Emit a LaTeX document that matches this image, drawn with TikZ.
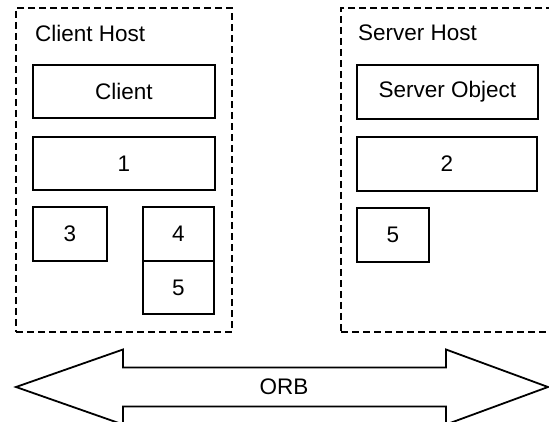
\documentclass[tikz,border=0pt]{standalone}
\usepackage{fontspec}
\setmainfont{Liberation Sans}
\begin{document}
\begin{tikzpicture}[x=1pt,y=-1pt,
  txt/.style={font=\fontsize{22.5}{27}\selectfont},
  box/.style={draw, line width=1.8pt, inner sep=0pt, txt},
  host/.style={draw, line width=1.6pt, dash pattern=on 7pt off 4pt, inner sep=0pt},
  lbl/.style={txt, inner sep=0pt, anchor=west}]
\useasboundingbox (0,0) rectangle (549,422);
\clip (0,0) rectangle (549,422);
% hosts
\node[host, minimum width=216pt, minimum height=324pt] (ch) at (124,170) {};
\node[host, minimum width=219pt, minimum height=324pt] (sh) at (450.5,170) {};
\node[lbl] (chl) at (35,33) {Client Host};
\node[lbl] (shl) at (358,33) {Server Host};
% client side
\node[box, minimum width=182pt, minimum height=53pt] (client) at (124,91.5) {Client};
\node[box, minimum width=182pt, minimum height=53pt] (c1) at (124,163.5) {1};
\node[box, minimum width=74pt, minimum height=54pt] (c3) at (70,234) {3};
\node[box, minimum width=71pt, minimum height=54pt] (c4) at (178.5,234) {4};
\node[box, minimum width=71pt, minimum height=53pt] (c5) at (178.5,287.5) {5};
% server side
\node[box, minimum width=181pt, minimum height=54pt] (so) at (447.5,92) {Server Object};
\node[box, minimum width=180pt, minimum height=54pt] (s2) at (447,164) {2};
\node[box, minimum width=72pt, minimum height=54pt] (s5) at (393,235) {5};
% ORB arrow
\draw[line width=1.8pt, line join=miter]
  (16,387) -- (123,349.5) -- (123,367.5) -- (446,367.5) -- (446,349.5) -- (548,387)
  -- (446,424.5) -- (446,406.5) -- (123,406.5) -- (123,424.5) -- cycle;
\node[txt, inner sep=0pt] (orb) at (284,387) {ORB};
\end{tikzpicture}
\end{document}
